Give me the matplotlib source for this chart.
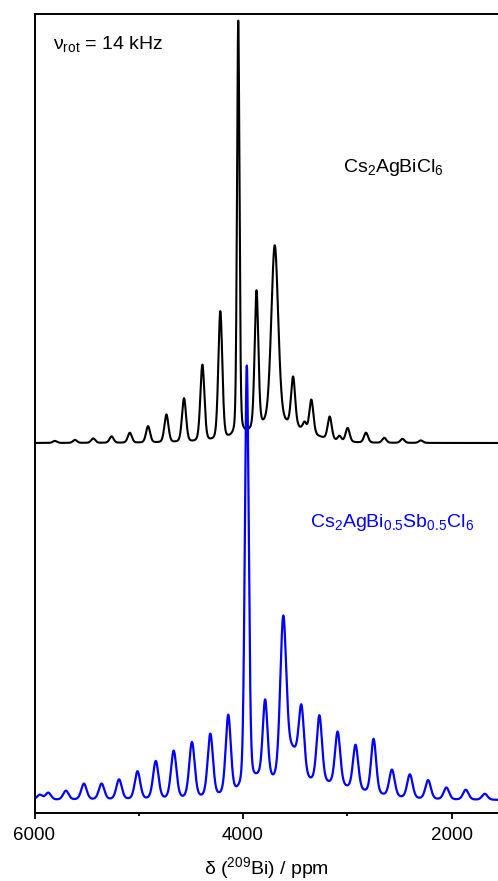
import numpy as np
import matplotlib
matplotlib.use('Agg')
import matplotlib.pyplot as plt
from matplotlib.ticker import MultipleLocator

plt.rcParams['font.family'] = ['Liberation Sans', 'DejaVu Sans']
plt.rcParams['mathtext.default'] = 'regular'

# 209Bi MAS spectra, spinning sidebands (ppm, a.u., FWHM ppm)
black_pos = [5805, 5612, 5437, 5261, 5086, 4911, 4735, 4566, 4390, 4218, 4046,
             3871, 3696, 3520, 3410, 3345, 3169, 3075, 2997, 2821, 2646, 2471, 2295]
black_amp = [2, 3, 4.5, 6.5, 10, 16.5, 28, 44, 77, 129, 416,
             138, 180, 49, 8, 34, 23, 5, 14, 10, 5, 4, 2.5]
black_fwhm = [46, 46, 46, 46, 46, 46, 46, 46, 46, 45, 28,
              42, 78, 46, 40, 46, 46, 40, 46, 46, 46, 46, 46]
black_hump = (3650, 17, 600)   # centre, height, FWHM of broad background

blue_pos = [5950, 5868, 5699, 5526, 5357, 5189, 5012, 4837, 4665, 4490, 4314, 4142,
            3964, 3788, 3615, 3440, 3268, 3093, 2921, 2748, 2572, 2400, 2225, 2050,
            1864, 1682]
blue_amp = [5, 7, 9, 16, 16, 20, 28, 38, 48, 56, 63, 79,
            423, 77, 155, 65, 67, 54, 45, 55, 27, 24, 19, 12, 10, 6]
blue_fwhm = [62, 62, 62, 62, 62, 62, 62, 62, 62, 62, 60, 58,
             44, 54, 68, 60, 60, 60, 60, 58, 62, 62, 62, 62, 62, 62]
blue_humps = [(3400, 17, 1000), (3530, 30, 150), (3830, 10, 200)]

black_offset = 370
blue_offset = 13


def gauss(x, c, a, w):
    return a * np.exp(-4 * np.log(2) * ((x - c) / w) ** 2)


def spectrum(x, pos, amp, fwhm, humps):
    y = np.zeros_like(x)
    for c, a, w in zip(pos, amp, fwhm):
        # pseudo-voigt line shape
        lor = a / (1 + (2 * (x - c) / w) ** 2)
        y += 0.75 * gauss(x, c, a, w) + 0.25 * lor
    for c, a, w in humps:
        y += gauss(x, c, a, w)
    return y


ppm = np.linspace(6000, 1500, 4000)
y_black = spectrum(ppm, black_pos, black_amp, black_fwhm, [black_hump]) + black_offset
y_blue = spectrum(ppm, blue_pos, blue_amp, blue_fwhm, blue_humps) + blue_offset

fig = plt.figure(figsize=(4.98, 8.81), dpi=100)
ax = fig.add_axes([34.5 / 498, 1 - 813 / 881, 1 - 34.5 / 498, 799 / 881])

ax.plot(ppm, y_black, color='black', lw=1.5)
ax.plot(ppm, y_blue, color='#0000ff', lw=1.6)

ax.set_xlim(6000, 1555)
ax.set_ylim(0, 799)
ax.set_yticks([])
ax.xaxis.set_major_locator(MultipleLocator(2000))
ax.xaxis.set_minor_locator(MultipleLocator(1000))
ax.tick_params(axis='x', which='major', direction='out', length=4.5, width=1.3,
               labelsize=13.5, pad=5.5)
ax.tick_params(axis='x', which='minor', direction='out', length=2.5, width=1.3)
for s in ['left', 'top', 'bottom']:
    ax.spines[s].set_linewidth(1.4)
ax.spines['right'].set_visible(False)

ax.set_xlabel('δ ($^{209}$Bi) / ppm', fontsize=14, labelpad=8)

ax.text(0.04, 0.962, 'ν$_{rot}$ = 14 kHz', transform=ax.transAxes,
        fontsize=14, va='center', ha='left')
ax.text(0.666, 0.808, 'Cs$_{2}$AgBiCl$_{6}$', transform=ax.transAxes,
        fontsize=14, va='center', ha='left')
ax.text(0.594, 0.363, 'Cs$_{2}$AgBi$_{0.5}$Sb$_{0.5}$Cl$_{6}$', transform=ax.transAxes,
        fontsize=14, va='center', ha='left', color='#0000ff')

plt.savefig('out.png', dpi=100)
